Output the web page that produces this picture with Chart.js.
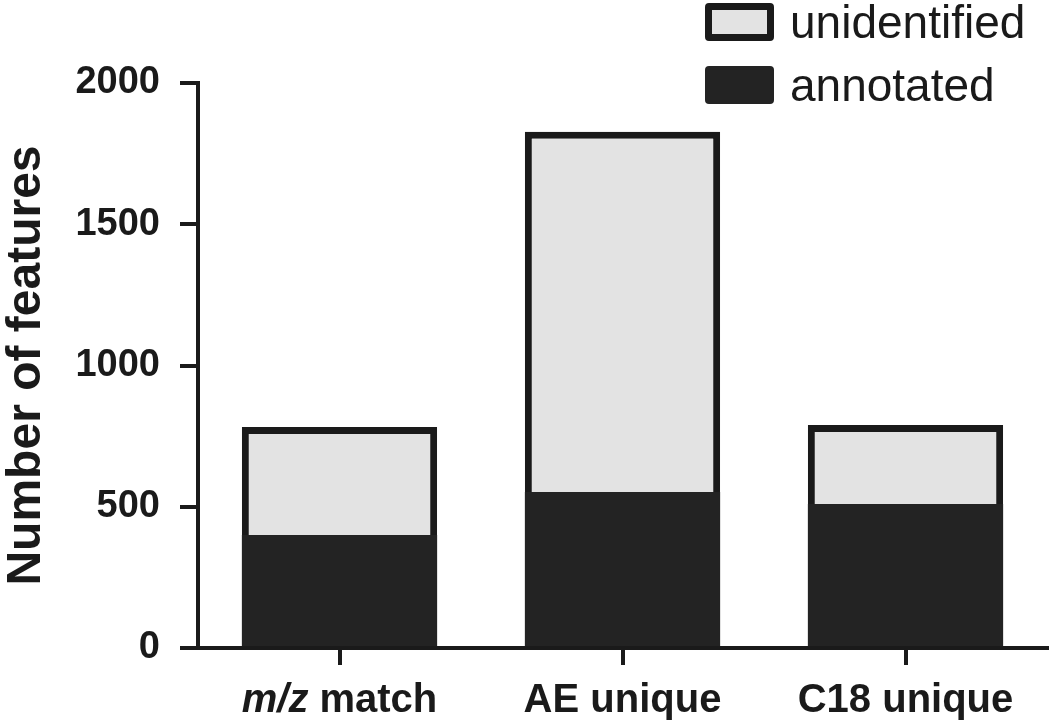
<!DOCTYPE html>
<html>
<head>
<meta charset="utf-8">
<script src="https://cdn.jsdelivr.net/npm/chart.js@4.4.0/dist/chart.umd.min.js"></script>
<style>
  html, body { margin: 0; padding: 0; background: #ffffff; }
  #wrap { position: relative; width: 1050px; height: 725px; }
  canvas { position: absolute; left: 0; top: 0; }
  .leg { position: absolute; left: 705px; display: flex; align-items: center;
         font-family: "Liberation Sans", Arial, sans-serif; font-size: 46px; color: #1a1a1a; }
  .sw { width: 69px; height: 38px; box-sizing: border-box; border-radius: 4px; margin-right: 16px; }
</style>
</head>
<body>
<div id="wrap">
  <canvas id="c" width="1050" height="725"></canvas>
  <div class="leg" style="top:2px;height:40px;"><div class="sw" style="background:#e3e3e3;border:7px solid #1a1a1a;"></div><span>unidentified</span></div>
  <div class="leg" style="top:65px;height:40px;"><div class="sw" style="background:#232323;"></div><span>annotated</span></div>
</div>
<script>
const categories = ["m/z match", "AE unique", "C18 unique"];
const annotated = [400, 552, 510];
const unidentified = [382, 1275, 279];
const yTicks = [0, 500, 1000, 1500, 2000];

const axisColor = '#1a1a1a';
const fontFamily = '"Liberation Sans", Arial, sans-serif';
const xFontSize = 40;

// Draws the first category label with an italic "m/z", at the scale's own tick position.
const italicLabel = {
  id: 'italicLabel',
  afterDraw(chart) {
    const xs = chart.scales.x;
    const label = categories[0];
    const parts = label.split(' ');
    const first = parts[0];
    const rest = ' ' + parts.slice(1).join(' ');
    const ctx = chart.ctx;
    ctx.save();
    ctx.fillStyle = axisColor;
    ctx.textBaseline = 'middle';
    ctx.textAlign = 'left';
    ctx.font = 'italic bold ' + xFontSize + 'px ' + fontFamily;
    const w1 = ctx.measureText(first).width;
    ctx.font = 'bold ' + xFontSize + 'px ' + fontFamily;
    const w2 = ctx.measureText(rest).width;
    const cx = xs.getPixelForTick(0);
    const y = xs.top + 17 + 12 + xFontSize * 1.2 / 2;
    let x = cx - (w1 + w2) / 2;
    ctx.font = 'italic bold ' + xFontSize + 'px ' + fontFamily;
    ctx.fillText(first, x, y);
    ctx.font = 'bold ' + xFontSize + 'px ' + fontFamily;
    ctx.fillText(rest, x + w1, y);
    ctx.restore();
  }
};

new Chart(document.getElementById('c'), {
  type: 'bar',
  data: {
    labels: categories,
    datasets: [
      { label: 'annotated', data: annotated, backgroundColor: '#232323', borderWidth: 0,
        categoryPercentage: 1.0, barPercentage: 0.69 },
      { label: 'unidentified', data: unidentified, backgroundColor: '#e3e3e3',
        borderColor: '#1a1a1a', borderWidth: 7, borderSkipped: 'bottom',
        categoryPercentage: 1.0, barPercentage: 0.69 }
    ]
  },
  options: {
    responsive: false,
    devicePixelRatio: 1,
    animation: false,
    layout: { padding: { left: 0, right: 3, top: 83, bottom: 0 } },
    plugins: { legend: { display: false }, tooltip: { enabled: false } },
    scales: {
      x: {
        stacked: true,
        offset: true,
        grid: { display: true, drawOnChartArea: false, drawTicks: true, offset: false,
                tickLength: 17, lineWidth: 4, color: axisColor },
        border: { display: true, width: 4, color: axisColor },
        ticks: { color: (ctx) => ctx.index === 0 ? 'rgba(0,0,0,0)' : axisColor, padding: 12,
                 font: { family: fontFamily, size: xFontSize, weight: 'bold' } },
        afterFit: (s) => { s.height = 77; }
      },
      y: {
        stacked: true,
        min: 0, max: 2000,
        afterBuildTicks: (s) => { s.ticks = yTicks.map(v => ({ value: v })); },
        grid: { display: true, drawOnChartArea: false, drawTicks: true,
                tickLength: 18, lineWidth: 4, color: axisColor },
        border: { display: true, width: 4, color: axisColor },
        ticks: { color: axisColor, padding: 20,
                 callback: (v) => String(v),
                 font: { family: fontFamily, size: 38, weight: 'bold' } },
        title: { display: true, text: 'Number of features', color: axisColor,
                 padding: { top: 0, bottom: 0 },
                 font: { family: fontFamily, size: 48, weight: 'bold', lineHeight: 1.1 } },
        afterFit: (s) => { s.width = 198; }
      }
    }
  },
  plugins: [italicLabel]
});
</script>
</body>
</html>
